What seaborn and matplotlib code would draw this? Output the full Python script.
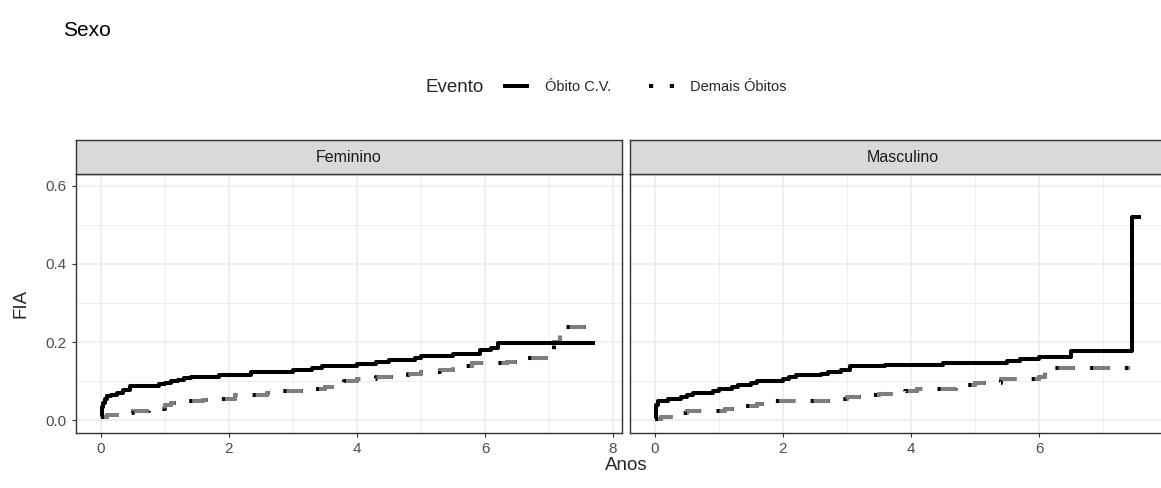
import matplotlib
matplotlib.use("Agg")
import matplotlib.pyplot as plt
from matplotlib.lines import Line2D
import numpy as np
import pandas as pd
import seaborn as sns

# Cumulative incidence (FIA) step curves, by sex and event type
fem_cv_t = [0, 0.01, 0.03, 0.06, 0.1, 0.15, 0.25, 0.35, 0.45, 0.9, 1.0, 1.1, 1.2, 1.3, 1.4,
            1.85, 2.35, 3.0, 3.3, 3.45, 4.0, 4.3, 4.5, 4.9, 5.0, 5.5, 5.92, 6.1, 6.2, 7.72]
fem_cv_y = [0.008, 0.035, 0.045, 0.055, 0.062, 0.066, 0.07, 0.078, 0.087, 0.092, 0.096, 0.1,
            0.104, 0.108, 0.112, 0.116, 0.123, 0.128, 0.133, 0.14, 0.145, 0.15, 0.155, 0.16,
            0.166, 0.17, 0.18, 0.186, 0.197, 0.197]

fem_dem_t = [0, 0.1, 0.3, 0.5, 0.75, 1.0, 1.1, 1.25, 1.6, 1.8, 2.1, 2.6, 2.85, 3.3, 3.5, 3.8,
             4.0, 4.3, 4.8, 5.0, 5.3, 5.5, 5.8, 6.35, 6.5, 7.08, 7.17, 7.72]
fem_dem_y = [0.008, 0.013, 0.02, 0.025, 0.03, 0.04, 0.045, 0.05, 0.052, 0.056, 0.066, 0.07,
             0.075, 0.08, 0.085, 0.1, 0.105, 0.11, 0.12, 0.125, 0.13, 0.14, 0.146, 0.15, 0.16,
             0.2, 0.24, 0.24]

mas_cv_t = [0, 0.01, 0.05, 0.2, 0.4, 0.5, 0.6, 0.9, 1.0, 1.2, 1.3, 1.5, 1.6, 2.0, 2.1, 2.2,
            2.6, 2.7, 2.9, 3.05, 3.6, 4.5, 5.5, 5.7, 6.0, 6.5, 7.45, 7.6]
mas_cv_y = [0.005, 0.04, 0.05, 0.055, 0.06, 0.065, 0.07, 0.075, 0.08, 0.085, 0.09, 0.095, 0.1,
            0.105, 0.11, 0.115, 0.12, 0.125, 0.13, 0.138, 0.143, 0.148, 0.153, 0.158, 0.163,
            0.178, 0.52, 0.52]

mas_dem_t = [0, 0.1, 0.3, 0.5, 1.1, 1.3, 1.6, 1.8, 2.8, 3.0, 3.4, 3.5, 3.9, 4.1, 4.7, 5.0,
             5.4, 6.0, 6.1, 6.2, 7.42]
mas_dem_y = [0.005, 0.01, 0.018, 0.025, 0.03, 0.038, 0.043, 0.05, 0.055, 0.06, 0.064, 0.068,
             0.075, 0.08, 0.09, 0.095, 0.105, 0.11, 0.125, 0.135, 0.135]

panels = ["Feminino", "Masculino"]
eventos = ["Óbito C.V.", "Demais Óbitos"]
x_ticks = [0, 2, 4, 6, 8]
y_ticks = [0.0, 0.2, 0.4, 0.6]

frames = []
for sexo, ev, t, y in [
    ("Feminino", "Óbito C.V.", fem_cv_t, fem_cv_y),
    ("Feminino", "Demais Óbitos", fem_dem_t, fem_dem_y),
    ("Masculino", "Óbito C.V.", mas_cv_t, mas_cv_y),
    ("Masculino", "Demais Óbitos", mas_dem_t, mas_dem_y),
]:
    frames.append(pd.DataFrame({"Sexo": sexo, "Evento": ev, "Anos": t, "FIA": y}))
df = pd.concat(frames, ignore_index=True)

sns.set_theme(style="white")
plt.rcParams["font.family"] = ["Liberation Sans", "DejaVu Sans"]
plt.rcParams["lines.scale_dashes"] = False

W, H = 1161, 488
fig = plt.figure(figsize=(W / 100, H / 100), dpi=100)

grid_major = "#EBEBEB"
border = "#333333"
lw_line = 2.9

panel_left = [76, 630]
panel_w = 546
panel_top, panel_bot = 174, 433
strip_top = 140

for i, sexo in enumerate(panels):
    ax = fig.add_axes([panel_left[i] / W, (H - panel_bot) / H,
                       panel_w / W, (panel_bot - panel_top) / H])
    sub = df[df["Sexo"] == sexo]

    cv = sub[sub["Evento"] == "Óbito C.V."]
    sns.lineplot(data=cv, x="Anos", y="FIA", ax=ax, estimator=None, drawstyle="steps-post",
                 color="black", lw=lw_line, zorder=4)
    ax.lines[-1].set_solid_capstyle("butt")

    dem = sub[sub["Evento"] == "Demais Óbitos"]
    # dashed curve: black dashes with a grey core
    sns.lineplot(data=dem, x="Anos", y="FIA", ax=ax, estimator=None, drawstyle="steps-post",
                 color="black", lw=lw_line, zorder=3)
    ax.lines[-1].set_linestyle((0, (14, 11)))
    ax.lines[-1].set_dash_capstyle("butt")
    sns.lineplot(data=dem, x="Anos", y="FIA", ax=ax, estimator=None, drawstyle="steps-post",
                 color="#7F7F7F", lw=lw_line, zorder=3.5)
    ax.lines[-1].set_linestyle((22.8, (11.6, 13.4)))
    ax.lines[-1].set_dash_capstyle("butt")

    ax.set_xlim(-0.39, 8.14)
    ax.set_ylim(-0.032, 0.63)
    ax.set_xticks(x_ticks)
    ax.set_xticks([1, 3, 5, 7], minor=True)
    ax.set_yticks(y_ticks)
    ax.set_yticks([0.1, 0.3, 0.5], minor=True)
    ax.grid(True, which="major", color=grid_major, lw=1.1, zorder=0)
    ax.grid(True, which="minor", color=grid_major, lw=0.6, zorder=0)
    ax.set_axisbelow(True)
    for s in ax.spines.values():
        s.set_color(border)
        s.set_linewidth(1.0)
        s.set_visible(True)
    ax.tick_params(axis="both", which="major", length=3.2, width=0.8, color=border,
                   labelsize=11, labelcolor="#4D4D4D", pad=3, direction="out",
                   bottom=True, left=True)
    ax.tick_params(axis="y", which="major", pad=4)
    ax.tick_params(axis="both", which="minor", length=0)
    ax.set_xticklabels([str(v) for v in x_ticks])
    if i == 0:
        ax.set_yticklabels([f"{v:.1f}" for v in y_ticks])
    else:
        ax.tick_params(axis="y", which="major", left=False, labelleft=False)
    ax.set_xlabel("")
    ax.set_ylabel("")

    sax = fig.add_axes([panel_left[i] / W, (H - panel_top) / H,
                        panel_w / W, (panel_top - strip_top) / H])
    sax.set_facecolor("#D9D9D9")
    sax.set_xticks([])
    sax.set_yticks([])
    for s in sax.spines.values():
        s.set_color(border)
        s.set_linewidth(1.0)
    sax.text(0.5, 0.5, sexo, ha="center", va="center", fontsize=11.5, color="#1A1A1A",
             transform=sax.transAxes)

fig.text(63 / W, 1 - 31 / H, "Sexo", fontsize=15, ha="left", va="center", color="black")
fig.text(626 / W, 1 - 466 / H, "Anos", fontsize=13.5, ha="center", va="center")
fig.text(21 / W, 1 - 303 / H, "FIA", fontsize=13.5, ha="center", va="center", rotation=90)

# legend
fig.text(484 / W, 1 - 87 / H, "Evento", fontsize=13.5, ha="right", va="center")
handles = [Line2D([], [], color="black", lw=lw_line, solid_capstyle="butt"),
           Line2D([], [], color="black", lw=lw_line, linestyle=(0, (3, 12)),
                  dash_capstyle="butt")]
fig.legend(handles, eventos, loc="center left", bbox_to_anchor=(503 / W, 1 - 87 / H),
           ncol=2, frameon=False, fontsize=10.5, handlelength=1.75, handletextpad=1.1,
           columnspacing=2.6, borderpad=0, borderaxespad=0)

fig.savefig("out.png", dpi=100)
